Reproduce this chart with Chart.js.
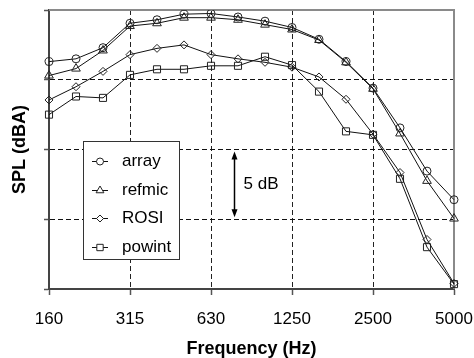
<!DOCTYPE html>
<html>
<head>
<meta charset="utf-8">
<script src="https://cdn.jsdelivr.net/npm/chart.js@4.4.0/dist/chart.umd.min.js"></script>
<style>
  html, body { margin: 0; padding: 0; background: #fff; }
</style>
</head>
<body>
<canvas id="spl" width="474" height="358"></canvas>
<script>
// 1/3 octave band centre frequencies (Hz)
var freqs = ["160", "200", "250", "315", "400", "500", "630", "800", "1000", "1250", "1600", "2000", "2500", "3150", "4000", "5000"];
var majorFreqs = ["160", "315", "630", "1250", "2500", "5000"];

// relative SPL (dB), 0 = bottom of the axis
var arrayVals  = [16.3, 16.5, 17.3, 19.05, 19.3, 19.7, 19.75, 19.5, 19.2, 18.75, 17.9, 16.3, 14.4, 11.55, 8.45, 6.4];
var refmicVals = [15.3, 15.8, 17.1, 18.85, 19.05, 19.45, 19.45, 19.3, 18.95, 18.6, 17.85, 16.25, 14.35, 11.15, 7.75, 5.05];
var rosiVals   = [13.55, 14.5, 15.6, 16.8, 17.25, 17.5, 16.8, 16.5, 16.25, 15.9, 15.2, 13.6, 11.1, 8.35, 3.55, 0.4];
var powintVals = [12.5, 13.8, 13.7, 15.35, 15.75, 15.75, 16.0, 16.0, 16.65, 16.05, 14.15, 11.3, 11.05, 7.9, 3.0, 0.35];

var yMin = 0, yMax = 20, yStep = 5;
var scaleBarFrom = 10, scaleBarTo = 5, scaleBarText = "5 dB";

var FONT = "'Liberation Sans', Arial, sans-serif";

function series(label, data, style, radius) {
	return {
		label: label,
		data: data,
		borderColor: "#111",
		borderWidth: 1,
		backgroundColor: "rgba(0,0,0,0)",
		pointStyle: style,
		pointRadius: radius,
		pointBorderColor: "#222",
		pointBackgroundColor: "rgba(0,0,0,0)",
		pointBorderWidth: 1,
		tension: 0,
		fill: false
	};
}

// frame, scale bar and inset legend
var decorations = {
	id: "decorations",
	beforeDatasetsDraw: function(chart) {
		var ctx = chart.ctx, a = chart.chartArea;
		ctx.save();
		ctx.strokeStyle = "#8a8a8a";
		ctx.lineWidth = 2;
		ctx.beginPath();
		ctx.moveTo(a.left, a.top);
		ctx.lineTo(a.right, a.top);
		ctx.lineTo(a.right, a.bottom);
		ctx.stroke();
		ctx.restore();
	},
	afterDraw: function(chart) {
		var ctx = chart.ctx;
		var xs = chart.scales.x, ys = chart.scales.y;

		// 5 dB scale bar
		var bx = Math.round(xs.getPixelForValue(6.86)) + 0.5;
		var y1 = ys.getPixelForValue(scaleBarFrom) + 2, y2 = ys.getPixelForValue(scaleBarTo) - 2;
		ctx.save();
		ctx.strokeStyle = "#000";
		ctx.fillStyle = "#000";
		ctx.lineWidth = 1.5;
		ctx.beginPath();
		ctx.moveTo(bx, y1 + 4);
		ctx.lineTo(bx, y2 - 4);
		ctx.stroke();
		ctx.beginPath();
		ctx.moveTo(bx, y1); ctx.lineTo(bx - 3, y1 + 8); ctx.lineTo(bx + 3, y1 + 8); ctx.closePath();
		ctx.fill();
		ctx.beginPath();
		ctx.moveTo(bx, y2); ctx.lineTo(bx - 3, y2 - 8); ctx.lineTo(bx + 3, y2 - 8); ctx.closePath();
		ctx.fill();
		ctx.font = "17px " + FONT;
		ctx.textBaseline = "middle";
		ctx.textAlign = "left";
		ctx.fillText(scaleBarText, bx + 9, (y1 + y2) / 2);
		ctx.restore();

		// legend box inside the plot
		var lx = 83, ly = 141, lw = 96, lh = 118;
		ctx.save();
		ctx.fillStyle = "#fff";
		ctx.fillRect(lx, ly, lw, lh);
		ctx.strokeStyle = "#333";
		ctx.lineWidth = 1;
		ctx.strokeRect(lx + 0.5, ly + 0.5, lw, lh);
		ctx.font = "17px " + FONT;
		ctx.textBaseline = "middle";
		ctx.textAlign = "left";
		chart.data.datasets.forEach(function(ds, i) {
			var cy = Math.round(161 + i * 28.5) + 0.5;
			ctx.strokeStyle = "#111";
			ctx.lineWidth = 1;
			ctx.beginPath();
			ctx.moveTo(92, cy);
			ctx.lineTo(108, cy);
			ctx.stroke();
			ctx.strokeStyle = "#222";
			ctx.fillStyle = "#fff";
			Chart.helpers.drawPoint(ctx, {
				pointStyle: ds.pointStyle,
				radius: ds.pointRadius - 0.5,
				rotation: 0,
				borderWidth: 1
			}, 100, cy);
			ctx.fillStyle = "#000";
			ctx.fillText(ds.label, 122, cy);
		});
		ctx.restore();
	}
};

var ctx = document.getElementById("spl").getContext("2d");
var splChart = new Chart(ctx, {
	type: "line",
	data: {
		labels: freqs,
		datasets: [
			series("array", arrayVals, "circle", 4),
			series("refmic", refmicVals, "triangle", 5),
			series("ROSI", rosiVals, "rectRot", 4),
			series("powint", powintVals, "rect", 5)
		]
	},
	options: {
		responsive: false,
		animation: false,
		layout: { padding: { top: 10, right: 20, left: 0, bottom: 0 } },
		plugins: {
			legend: { display: false },
			tooltip: { enabled: false }
		},
		scales: {
			x: {
				type: "category",
				offset: false,
				afterFit: function(scale) {
					scale.height = 69;
					scale.paddingLeft = 0;
					scale.paddingRight = 0;
				},
				grid: {
					drawOnChartArea: true,
					tickLength: 6,
					lineWidth: 1,
					color: function(c) {
						var lab = freqs[c.index];
						if (c.index === 0 || c.index === freqs.length - 1) return "rgba(0,0,0,0)";
						return majorFreqs.indexOf(lab) >= 0 ? "#222" : "rgba(0,0,0,0)";
					},
					tickColor: function(c) {
						return majorFreqs.indexOf(freqs[c.index]) >= 0 ? "#555" : "rgba(0,0,0,0)";
					},
					tickWidth: 1.5
				},
				border: { display: true, color: "#444", width: 2, dash: [5, 3] },
				ticks: {
					autoSkip: false,
					maxRotation: 0,
					padding: 14,
					color: "#000",
					font: { family: FONT, size: 17 },
					callback: function(v, i) {
						return majorFreqs.indexOf(freqs[i]) >= 0 ? freqs[i] : "";
					}
				},
				title: {
					display: true,
					text: "Frequency (Hz)",
					color: "#000",
					font: { family: FONT, size: 18, weight: "bold", lineHeight: 1 },
					padding: { top: 0, bottom: 0 }
				}
			},
			y: {
				min: yMin,
				max: yMax,
				afterFit: function(scale) { scale.width = 49; },
				grid: {
					tickLength: 5,
					lineWidth: 1,
					color: function(c) {
						var v = c.tick ? c.tick.value : null;
						return (v === yMin || v === yMax) ? "rgba(0,0,0,0)" : "#111";
					},
					tickColor: "#555",
					tickWidth: 1.5
				},
				border: { display: true, color: "#444", width: 2, dash: [5, 3] },
				ticks: {
					stepSize: yStep,
					color: "rgba(0,0,0,0)",
					font: { family: FONT, size: 1 },
					callback: function() { return ""; }
				},
				title: {
					display: true,
					text: "SPL (dBA)",
					color: "#000",
					font: { family: FONT, size: 18, weight: "bold", lineHeight: 1.2 },
					padding: { top: 9, bottom: 0 }
				}
			}
		}
	},
	plugins: [decorations]
});
</script>
</body>
</html>
